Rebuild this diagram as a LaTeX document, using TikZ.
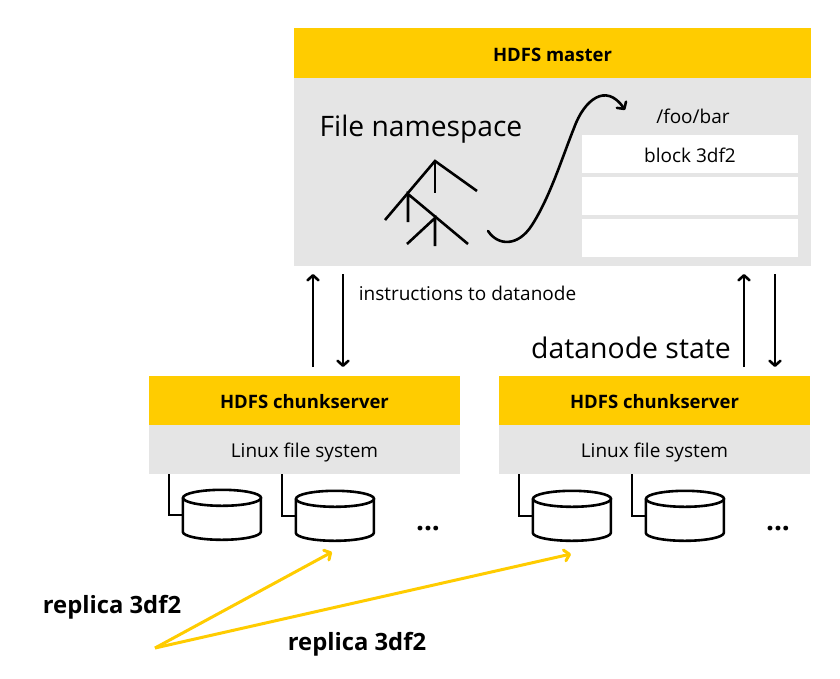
\documentclass[tikz,border=0pt]{standalone}
\usepackage{fontspec}
\setmainfont{Open Sans}
\usetikzlibrary{arrows.meta}
\definecolor{ydx}{HTML}{FFCC00}
\definecolor{panel}{HTML}{E5E5E5}
\newcommand{\drawdisk}[3]{
	\node[disk] (#1) at (#2,#3) {};
	\draw[link, fill = white] (#1.north west) ++(0,8) -- ++(0,34)
	arc[start angle = 180, end angle = 360, x radius = 39pt, y radius = 8pt] -- ++(0,-34);
	\draw[link, fill = white] (#1.north) ++(0,8) ellipse[x radius = 39pt, y radius = 8pt];
}
\begin{document}
\begin{tikzpicture}
	[x = 1pt, y = -1pt, >={Straight Barb[length = 5pt, width = 11pt, round]},
	head/.style = {fill = ydx, inner sep = 0pt, text height = 20pt, text depth = 4pt, font = \fontsize{18.5}{20}\selectfont\bfseries},
	body/.style = {fill = panel, inner sep = 0pt, text height = 20pt, text depth = 4pt, font = \fontsize{19}{20}\selectfont},
	row/.style = {fill = white, inner sep = 0pt, minimum width = 216pt, minimum height = 38pt, text height = 20pt, text depth = 4pt, font = \fontsize{19}{20}\selectfont},
	disk/.style = {inner sep = 0pt, minimum width = 78pt, minimum height = 50pt},
	link/.style = {line width = 2.6pt},
	msg/.style = {->, line width = 2.6pt},
	repl/.style = {->, ydx, line width = 3pt},
	txt/.style = {inner sep = 0pt, font = \fontsize{19}{20}\selectfont},
	bold/.style = {inner sep = 0pt, font = \fontsize{23.8}{26}\selectfont\bfseries}]
	\useasboundingbox (0,0) rectangle (840,678);
	% master
	\node[head, minimum width = 517pt, minimum height = 50pt] (mhead) at (552.5,53) {HDFS master};
	\node[body, minimum width = 517pt, minimum height = 188pt] (mbody) at (552.5,172) {};
	\node[txt, font = \fontsize{28.2}{30}\selectfont] (ns) at (421,129) {File namespace};
	\node[txt] (path) at (693,116) {/foo/bar};
	\node[row] (r1) at (690,154) {block 3df2};
	\node[row] (r2) at (690,196) {};
	\node[row] (r3) at (690,238) {};
	% tree
	\draw[link] (385,220) -- (435,161) -- (477,191);
	\draw[link] (435,161) -- (435,193);
	\draw[link] (408,222) -- (408,194) -- (468,244);
	\draw[link] (407,244) -- (435,218) -- (435,246);
	\draw[link, ->, line cap = round] (488,231) .. controls (498,246) and (518,247) .. (532,225)
	.. controls (550,197) and (562,158) .. (574,128)
	.. controls (584,100) and (606,82) .. (625,110);
	% chunkservers
	\node[head, minimum width = 311pt, minimum height = 49pt] (c1head) at (304.5,400.5) {HDFS chunkserver};
	\node[body, minimum width = 311pt, minimum height = 49pt] (c1fs) at (304.5,449.5) {Linux file system};
	\node[head, minimum width = 311pt, minimum height = 49pt] (c2head) at (654.5,400.5) {HDFS chunkserver};
	\node[body, minimum width = 311pt, minimum height = 49pt] (c2fs) at (654.5,449.5) {Linux file system};
	\drawdisk{d1}{222}{515}
	\drawdisk{d2}{335}{516}
	\drawdisk{d3}{572}{516}
	\drawdisk{d4}{685}{516}
	\coordinate (b1) at (169,474);
	\coordinate (b2) at (282,474);
	\coordinate (b3) at (519,474);
	\coordinate (b4) at (632,474);
	\draw[link] (b1) |- (d1.west);
	\draw[link] (b2) |- (d2.west);
	\draw[link] (b3) |- (d3.west);
	\draw[link] (b4) |- (d4.west);
	\node[txt, font = \fontsize{28}{30}\selectfont\bfseries] (dots1) at (428,529) {...};
	\node[txt, font = \fontsize{28}{30}\selectfont\bfseries] (dots2) at (778,529) {...};
	% messages
	\coordinate (a1) at (313,274);
	\coordinate (a2) at (343,274);
	\coordinate (a3) at (744,274);
	\coordinate (a4) at (775,274);
	\coordinate (e1) at (313,367);
	\coordinate (e2) at (343,367);
	\coordinate (e3) at (744,367);
	\coordinate (e4) at (775,367);
	\draw[msg] (e1) -- (a1);
	\draw[msg] (a2) -- (e2);
	\draw[msg] (e3) -- (a3);
	\draw[msg] (a4) -- (e4);
	\node[txt] (instr) at (467.5,293) {instructions to datanode};
	\node[txt, font = \fontsize{28.4}{30}\selectfont] (state) at (631,348) {datanode state};
	% replicas
	\coordinate (src) at (155,648);
	\coordinate (t1) at (332,552);
	\coordinate (t2) at (571,554);
	\draw[repl] (src) -- (t1);
	\draw[repl] (src) -- (t2);
	\node[bold] (rep1) at (112,607) {replica 3df2};
	\node[bold] (rep2) at (357,644) {replica 3df2};
\end{tikzpicture}
\end{document}
